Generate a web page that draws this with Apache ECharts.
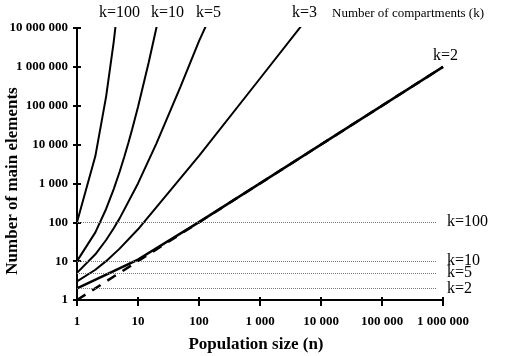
<!DOCTYPE html>
<html>
<head>
<meta charset="utf-8">
<script src="https://cdn.jsdelivr.net/npm/echarts@6/dist/echarts.min.js"></script>
<style>
  html, body { margin: 0; padding: 0; background: #fff; }
  #chart { width: 507px; height: 356px; }
</style>
</head>
<body>
<div id="chart"></div>
<script>
// population size (n) and number of main elements for each k
const k100N = [1, 2, 3, 4, 5];
const k100V = [100, 5050, 171700, 4421275, 91962520];
const k10N = [1, 2, 3, 4, 5, 6, 7, 8, 10, 15, 20, 22];
const k10V = [10, 55, 220, 715, 2002, 5005, 11440, 24310, 92378, 1307504, 10015005, 20160075];
const k5N = [1, 2, 3, 4, 5, 10, 20, 50, 100, 130];
const k5V = [5, 15, 35, 70, 126, 1001, 10626, 316251, 4598126, 11358880];
const k3N = [1, 2, 3, 5, 10, 100, 1000, 5000];
const k3V = [3, 6, 10, 21, 66, 5151, 501501, 12507501];
const k2N = [1, 10, 100, 1000, 1000000];
const k2V = [2, 11, 101, 1001, 1000001];
const diagN = [1, 1000000];
const diagV = [1, 1000000];

// horizontal reference levels (right side labels)
const refLevels = [100, 10, 5, 2];
const refLabels = ["k=100", "k=10", "k=5", "k=2"];
const refEndN = 800000;

const serif = "Liberation Serif";

const fmt = (v) => String(Math.round(v)).replace(/\B(?=(\d{3})+(?!\d))/g, " ");
const pairs = (xs, ys) => xs.map((x, i) => [x, ys[i]]);

const lineSeries = (data, width) => ({
  type: "line",
  data: data,
  symbol: "none",
  clip: true,
  lineStyle: { color: "#000", width: width },
  silent: true,
});

const axisCommon = {
  type: "log",
  logBase: 10,
  axisLine: { lineStyle: { color: "#000", width: 2 } },
  splitLine: { show: false },
  minorTick: { show: false },
};

const chart = echarts.init(document.getElementById("chart"));

chart.setOption({
  animation: false,
  grid: { left: 77, right: 64, top: 28, bottom: 56, containLabel: false, outerBoundsMode: "none" },
  xAxis: [
    {
      ...axisCommon,
      min: 1,
      max: 1000000,
      splitNumber: 6,
      axisTick: { inside: false, length: 6, lineStyle: { color: "#000", width: 2 } },
      axisLabel: {
        formatter: fmt,
        fontFamily: serif,
        fontWeight: "bold",
        fontSize: 13,
        color: "#000",
        margin: 15,
        showMaxLabel: true,
        showMinLabel: true,
      },
    },
    {
      ...axisCommon,
      min: 1,
      max: 1000000,
      splitNumber: 6,
      position: "bottom",
      axisTick: { inside: true, length: 3, lineStyle: { color: "#000", width: 2 } },
      axisLabel: { show: false },
    },
  ],
  yAxis: [
    {
      ...axisCommon,
      min: 1,
      max: 10000000,
      splitNumber: 7,
      axisTick: { inside: false, length: 4, lineStyle: { color: "#000", width: 2 } },
      axisLabel: {
        formatter: fmt,
        fontFamily: serif,
        fontWeight: "bold",
        fontSize: 13,
        color: "#000",
        margin: 9,
        showMaxLabel: true,
        showMinLabel: true,
      },
    },
    {
      ...axisCommon,
      min: 1,
      max: 10000000,
      splitNumber: 7,
      position: "left",
      axisTick: { inside: true, length: 4, lineStyle: { color: "#000", width: 2 } },
      axisLabel: { show: false },
    },
  ],
  series: [
    lineSeries(pairs(k100N, k100V), 2),
    lineSeries(pairs(k10N, k10V), 2),
    lineSeries(pairs(k5N, k5V), 2),
    lineSeries(pairs(k3N, k3V), 2),
    lineSeries(pairs(k2N, k2V), 2.5),
    {
      type: "line",
      data: pairs(diagN, diagV),
      symbol: "none",
      silent: true,
      lineStyle: { color: "#000", width: 2.5, type: [10, 8] },
      markLine: {
        silent: true,
        symbol: "none",
        lineStyle: { color: "#777", width: 1, type: [1, 1] },
        label: {
          position: "end",
          distance: 10,
          fontFamily: serif,
          fontSize: 16,
          color: "#000",
          formatter: (p) => p.data.name,
        },
        data: refLevels.map((lv, i) => [
          { coord: [1, lv], name: refLabels[i] },
          { coord: [refEndN, lv] },
        ]),
      },
    },
  ],
  graphic: [
    { type: "text", left: 99, top: 5, style: { text: "k=100", font: "16px " + serif, fill: "#000" } },
    { type: "text", left: 151, top: 5, style: { text: "k=10", font: "16px " + serif, fill: "#000" } },
    { type: "text", left: 196, top: 5, style: { text: "k=5", font: "16px " + serif, fill: "#000" } },
    { type: "text", left: 292, top: 5, style: { text: "k=3", font: "16px " + serif, fill: "#000" } },
    { type: "text", left: 332, top: 7, style: { text: "Number of compartments (k)", font: "13px " + serif, fill: "#000" } },
    { type: "text", left: 433, top: 48, style: { text: "k=2", font: "16px " + serif, fill: "#000" } },
    {
      type: "text", x: 13, y: 181, rotation: Math.PI / 2,
      style: { text: "Number of main elements", font: "bold 17px " + serif, fill: "#000", align: "center", verticalAlign: "middle" },
    },
    {
      type: "text", x: 256, y: 345,
      style: { text: "Population size (n)", font: "bold 17px " + serif, fill: "#000", align: "center", verticalAlign: "middle" },
    },
  ],
});
</script>
</body>
</html>
